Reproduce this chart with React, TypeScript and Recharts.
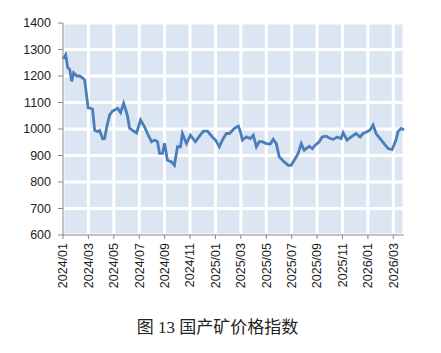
import { LineChart, Line, CartesianGrid, XAxis, YAxis } from 'recharts';

// month offset from 2024/01 (fractional) and index value
const months = [
  0.0, 0.21, 0.37, 0.53, 0.68, 0.84, 1.08, 1.31, 1.55, 1.7, 1.86, 1.98, 2.18, 2.33, 2.49, 2.73, 2.88, 3.12, 3.28, 3.43,
  3.67, 3.9, 4.06, 4.3, 4.53, 4.77, 5.06, 5.24, 5.48, 5.79, 6.1, 6.42, 6.65, 6.97, 7.2, 7.44, 7.6, 7.83, 7.99, 8.22,
  8.54, 8.77, 9.01, 9.25, 9.4, 9.72, 10.03, 10.42, 10.74, 11.05, 11.37, 11.75, 12.0, 12.31, 12.54, 12.86, 13.1, 13.49,
  13.8, 13.96, 14.12, 14.43, 14.75, 14.98, 15.22, 15.45, 15.69, 16.0, 16.32, 16.55, 16.79, 17.02, 17.41, 17.73, 17.96,
  18.28, 18.51, 18.75, 18.99, 19.38, 19.62, 19.85, 20.17, 20.4, 20.71, 21.03, 21.26, 21.58, 21.89, 22.05, 22.36, 22.68,
  23.07, 23.38, 23.62, 23.93, 24.17, 24.41, 24.64, 24.96, 25.27, 25.59, 25.9, 26.21, 26.37, 26.61, 26.84,
];
const values = [
  1265, 1280, 1232, 1225, 1180, 1212, 1200, 1200, 1192, 1185, 1125, 1080, 1078, 1075, 995, 990, 995, 963, 965, 1005,
  1053, 1068, 1072, 1078, 1062, 1097, 1053, 1003, 995, 985, 1034, 1008, 983, 952, 958, 952, 908, 908, 946, 882,
  876, 863, 933, 933, 983, 945, 977, 952, 973, 992, 992, 970, 958, 933, 958, 983, 983, 1002,
  1011, 990, 958, 970, 964, 977, 933, 952, 952, 945, 943, 961, 945, 895, 876, 863, 863,
  889, 908, 945, 920, 935, 926, 939, 952, 970, 973, 964, 961, 970, 964, 986, 958, 970,
  983, 970, 983, 990, 996, 1015, 983, 964, 945, 926, 922, 958, 990, 1002, 996,
];
const xTicks = [0, 2, 4, 6, 8, 10, 12, 14, 16, 18, 20, 22, 24, 26];
const xTickLabels = [
  '2024/01', '2024/03', '2024/05', '2024/07', '2024/09', '2024/11', '2025/01',
  '2025/03', '2025/05', '2025/07', '2025/09', '2025/11', '2026/01', '2026/03',
];
const yTicks = [600, 700, 800, 900, 1000, 1100, 1200, 1300, 1400];

const data = months.map((m, i) => ({ m, v: values[i] }));

const font = '"Liberation Sans", Arial, sans-serif';

function DateTick({ x, y, payload }: any) {
  const idx = xTicks.indexOf(payload.value);
  return (
    <text
      x={x}
      y={y}
      transform={`rotate(-90, ${x}, ${y})`}
      textAnchor="end"
      dy="0.35em"
      fill="#222"
      fontSize={12.5}
      fontFamily={font}
    >
      {xTickLabels[idx]}
    </text>
  );
}

export default function App() {
  return (
    <div style={{ position: 'absolute', left: 0, top: 0, width: 441, height: 353, background: '#fff' }}>
      <LineChart width={441} height={290} data={data} margin={{ top: 23, right: 37, left: 0, bottom: 0 }}>
        <CartesianGrid fill="#dce6f2" stroke="#ffffff" strokeWidth={3} />
        <XAxis
          dataKey="m"
          type="number"
          domain={[0, 26.84]}
          ticks={xTicks}
          interval={0}
          height={55}
          stroke="#888"
          tickSize={4}
          tickMargin={4}
          tick={<DateTick />}
        />
        <YAxis
          domain={[600, 1400]}
          ticks={yTicks}
          interval={0}
          width={63}
          stroke="#888"
          tickSize={5}
          tickMargin={7}
          tick={{ fill: '#222', fontSize: 12.5, fontFamily: font }}
        />
        <Line
          type="linear"
          dataKey="v"
          stroke="#4a7ebb"
          strokeWidth={2.8}
          dot={false}
          isAnimationActive={false}
        />
      </LineChart>
      <div
        style={{
          position: 'absolute',
          left: 0,
          top: 316,
          width: 435,
          textAlign: 'center',
          fontSize: 17,
          lineHeight: '24px',
          color: '#222',
          fontFamily: '"Liberation Serif", "Times New Roman", "Noto Sans CJK SC", serif',
        }}
      >
        图 13 国产矿价格指数
      </div>
    </div>
  );
}
